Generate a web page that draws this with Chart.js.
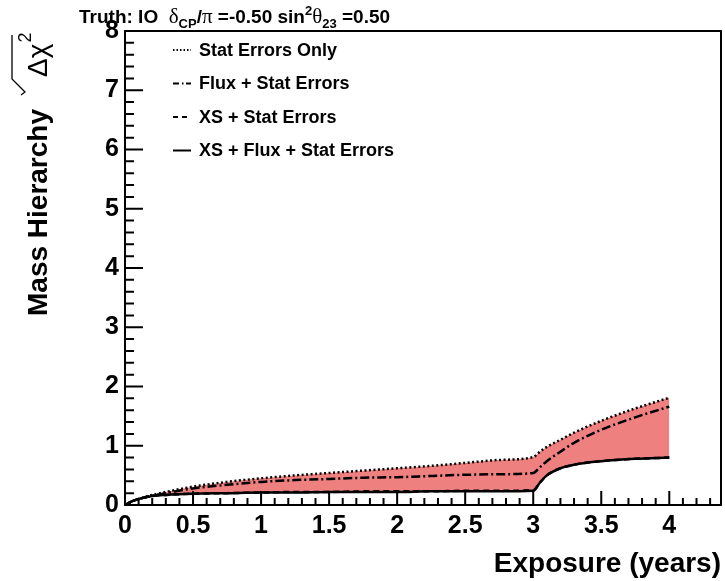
<!DOCTYPE html>
<html>
<head>
<meta charset="utf-8">
<script src="https://cdn.jsdelivr.net/npm/chart.js@4"></script>
<style>
  html, body { margin: 0; padding: 0; background: #fff; }
  canvas { display: block; }
</style>
</head>
<body>
<canvas id="mhChart" width="725" height="581"></canvas>
<script>
// exposure in years (x) and sqrt(delta chi2) for each error configuration
const exposure    = [0, 0.05, 0.1, 0.2, 0.3, 0.5, 0.75, 1, 1.25, 1.5, 1.75, 2, 2.25, 2.5, 2.75, 3, 3.05, 3.1, 3.2, 3.3, 3.5, 3.75, 4];
const statOnly    = [0, 0.06, 0.1, 0.17, 0.22, 0.31, 0.39, 0.45, 0.5, 0.54, 0.58, 0.62, 0.66, 0.71, 0.76, 0.81, 0.9, 0.98, 1.1, 1.22, 1.42, 1.63, 1.81];
const fluxStat    = [0, 0.06, 0.1, 0.16, 0.2, 0.28, 0.34, 0.39, 0.42, 0.44, 0.46, 0.47, 0.49, 0.51, 0.52, 0.54, 0.64, 0.74, 0.9, 1.05, 1.27, 1.48, 1.66];
const xsStat      = [0, 0.06, 0.1, 0.15, 0.17, 0.19, 0.2, 0.21, 0.22, 0.22, 0.23, 0.23, 0.23, 0.24, 0.24, 0.25, 0.38, 0.5, 0.62, 0.68, 0.74, 0.78, 0.8];
const xsFluxStat  = [0, 0.06, 0.1, 0.15, 0.17, 0.19, 0.2, 0.21, 0.21, 0.22, 0.22, 0.22, 0.23, 0.23, 0.23, 0.24, 0.38, 0.5, 0.62, 0.68, 0.74, 0.78, 0.8];

const seriesNames = ['Stat Errors Only', 'Flux + Stat Errors', 'XS + Stat Errors', 'XS + Flux + Stat Errors'];
const xTickLabels = [0, 0.5, 1, 1.5, 2, 2.5, 3, 3.5, 4];
const yTickLabels = [0, 1, 2, 3, 4, 5, 6, 7, 8];

const FONT = '"Liberation Sans", Arial, Helvetica, sans-serif';
const SERIF = '"Liberation Serif", "DejaVu Serif", serif';
const dashes = [[2, 2.5], [9, 3, 2, 3], [6, 4], []];

function pts(ys) {
    return exposure.map((x, i) => ({ x: x, y: ys[i] }));
}

function makeSet(i, ys, extra) {
    return Object.assign({
        label: seriesNames[i],
        data: pts(ys),
        borderColor: '#000',
        borderWidth: 2.5,
        borderDash: dashes[i],
        pointRadius: 0,
        cubicInterpolationMode: 'monotone',
        fill: false
    }, extra || {});
}

// inward ROOT-style ticks and frame
const frameTicks = {
    id: 'frameTicks',
    afterDraw(chart) {
        const ctx = chart.ctx;
        const a = chart.chartArea;
        const xs = chart.scales.x, ys = chart.scales.y;
        ctx.save();
        ctx.strokeStyle = '#000';
        ctx.lineWidth = 2;
        ctx.strokeRect(a.left, a.top, a.right - a.left, a.bottom - a.top);
        ctx.beginPath();
        for (let k = 0; k <= 40; k++) {
            const py = ys.getPixelForValue(k * 0.2);
            const len = k % 5 === 0 ? 18 : 9;
            ctx.moveTo(a.left, py);
            ctx.lineTo(a.left + len, py);
        }
        for (let k = 0; k <= 43; k++) {
            const px = xs.getPixelForValue(k * 0.1);
            const len = k % 5 === 0 ? 14 : 7;
            ctx.moveTo(px, a.bottom);
            ctx.lineTo(px, a.bottom - len);
        }
        ctx.stroke();
        ctx.restore();
    }
};

// title, axis titles and legend drawn as text on the canvas
const texts = {
    id: 'texts',
    afterDraw(chart) {
        const ctx = chart.ctx;
        ctx.save();
        ctx.fillStyle = '#000';
        ctx.strokeStyle = '#000';
        ctx.textBaseline = 'alphabetic';

        // top title with sub/superscripts
        const segs = [
            ['Truth: IO  ', 'bold 19px ' + FONT, 0],
            ['\u03b4', '21px ' + SERIF, 0],
            ['CP', 'bold 13px ' + FONT, 5],
            ['/', 'bold 19px ' + FONT, 0],
            ['\u03c0', '21px ' + SERIF, 0],
            [' =-0.50 sin', 'bold 19px ' + FONT, 0],
            ['2', 'bold 13px ' + FONT, -8],
            ['\u03b8', '21px ' + SERIF, 0],
            ['23', 'bold 13px ' + FONT, 5],
            [' =0.50', 'bold 19px ' + FONT, 0]
        ];
        let x = 79;
        ctx.textAlign = 'left';
        segs.forEach(s => {
            ctx.font = s[1];
            ctx.fillText(s[0], x, 22.5 + s[2]);
            x += ctx.measureText(s[0]).width;
        });

        // x axis title
        ctx.font = 'bold 28px ' + FONT;
        ctx.textAlign = 'right';
        ctx.fillText('Exposure (years)', 721, 572);

        // y axis title (rotated)
        ctx.save();
        ctx.translate(47, 316);
        ctx.rotate(-Math.PI / 2);
        ctx.textAlign = 'left';
        ctx.font = 'bold 28px ' + FONT;
        const main = 'Mass Hierarchy';
        ctx.fillText(main, 0, 0);
        const w = ctx.measureText(main).width;
        const x0 = w + 14;
        ctx.lineWidth = 1.3;
        ctx.beginPath();
        ctx.moveTo(x0, -26);
        ctx.lineTo(x0 + 3, -22);
        ctx.lineTo(x0 + 16, -35);
        ctx.lineTo(x0 + 60, -35);
        ctx.stroke();
        ctx.font = '28px ' + FONT;
        ctx.fillText('\u0394\u03c7', x0 + 18, 0);
        const w2 = ctx.measureText('\u0394\u03c7').width;
        ctx.font = '18px ' + FONT;
        ctx.fillText('2', x0 + 18 + w2 + 1, -16);
        ctx.restore();

        // legend inside the frame
        const rows = [50, 83.5, 117, 150.5];
        ctx.font = 'bold 18px ' + FONT;
        ctx.textAlign = 'left';
        ctx.textBaseline = 'middle';
        rows.forEach((ry, i) => {
            ctx.save();
            ctx.lineWidth = 2;
            ctx.setLineDash(i === 0 ? [1.5, 2] : (i === 1 ? [6, 3, 1.5, 2.5] : (i === 2 ? [5, 4] : [])));
            ctx.beginPath();
            ctx.moveTo(173, ry);
            ctx.lineTo(191, ry);
            ctx.stroke();
            ctx.restore();
            ctx.fillText(seriesNames[i], 199, ry + 1);
        });
        ctx.restore();
    }
};

new Chart(document.getElementById('mhChart'), {
    type: 'line',
    data: {
        datasets: [
            makeSet(0, statOnly, { fill: { target: 3 }, backgroundColor: 'rgb(239,128,128)' }),
            makeSet(1, fluxStat),
            makeSet(2, xsStat),
            makeSet(3, xsFluxStat)
        ]
    },
    options: {
        responsive: false,
        animation: false,
        layout: { padding: { top: 31, right: 4, left: 0, bottom: 0 } },
        plugins: {
            legend: { display: false },
            tooltip: { enabled: false },
            filler: { drawTime: 'beforeDatasetsDraw' }
        },
        scales: {
            x: {
                type: 'linear',
                min: 0,
                max: 4.38,
                grid: { display: false, drawTicks: false },
                border: { display: false },
                afterBuildTicks: s => { s.ticks = xTickLabels.map(v => ({ value: v })); },
                afterFit: s => { s.height = 76; },
                ticks: {
                    padding: 6,
                    maxRotation: 0,
                    color: '#000',
                    font: { family: FONT, size: 25, weight: 'bold' },
                    callback: v => String(v)
                }
            },
            y: {
                type: 'linear',
                min: 0,
                max: 8,
                grid: { display: false, drawTicks: false },
                border: { display: false },
                afterBuildTicks: s => { s.ticks = yTickLabels.map(v => ({ value: v })); },
                afterFit: s => { s.width = 125; },
                ticks: {
                    padding: 6,
                    color: '#000',
                    font: { family: FONT, size: 25, weight: 'bold' },
                    callback: v => String(v)
                }
            }
        }
    },
    plugins: [frameTicks, texts]
});
</script>
</body>
</html>
